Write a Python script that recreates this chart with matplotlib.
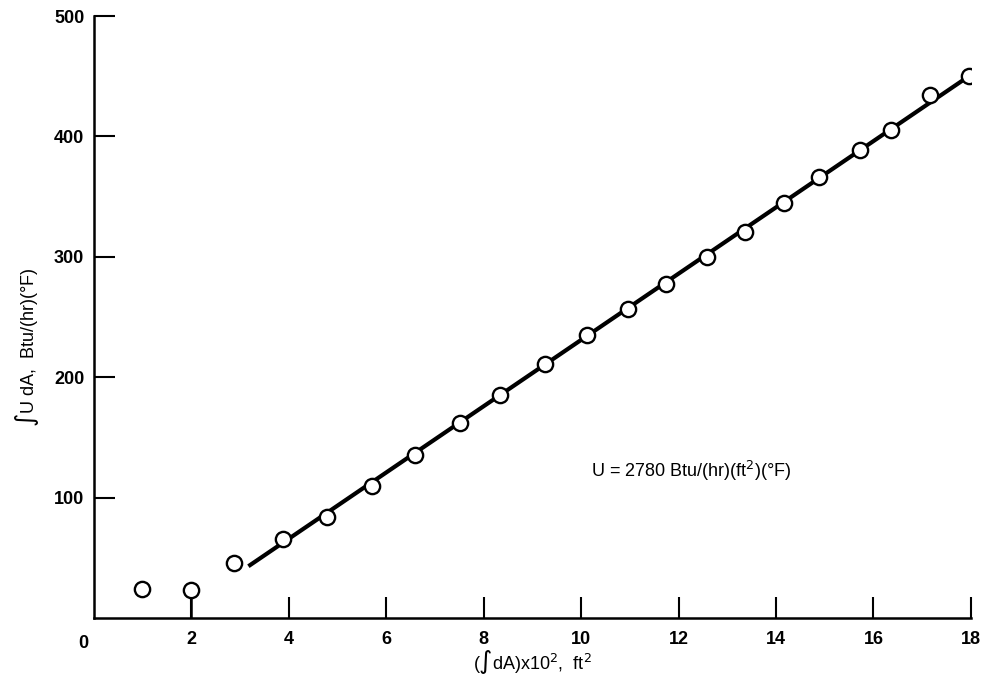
import matplotlib
matplotlib.use("Agg")
import matplotlib.pyplot as plt
import numpy as np

plt.rcParams['font.family'] = ['Liberation Sans Narrow', 'Liberation Sans', 'DejaVu Sans']
plt.rcParams['mathtext.fontset'] = 'dejavusans'

# data
area = [0.99, 2.0, 2.88, 3.89, 4.79, 5.71, 6.59, 7.52, 8.34, 9.26, 10.12,
        10.96, 11.74, 12.58, 13.36, 14.16, 14.88, 15.72, 16.36, 17.16, 17.96]
uda = [24, 23, 46, 66, 84, 110, 135, 162, 185, 211, 235,
       257, 277, 300, 321, 345, 366, 389, 405, 434, 450]
fit_x = [3.17, 17.96]
fit_y = [43, 450]
xticks = [2, 4, 6, 8, 10, 12, 14, 16, 18]
yticks = [100, 200, 300, 400, 500]

fig = plt.figure(figsize=(9.83, 6.81), dpi=100)
ax = fig.add_axes([0.0956, 0.0925, 0.892, 0.884])

ax.plot(fit_x, fit_y, color='black', lw=3, solid_capstyle='butt', zorder=2)
# stem under the point at x=2
ax.vlines(area[1], 0, uda[1] - 3, color='black', lw=1.8, zorder=1)
ax.plot(area, uda, 'o', ms=11, mfc='white', mec='black', mew=1.7, zorder=3)

ax.set_xlim(0, 18)
ax.set_ylim(0, 500)
ax.set_xticks(xticks)
ax.set_yticks(yticks)
ax.spines['top'].set_visible(False)
ax.spines['right'].set_visible(False)
for s in ('left', 'bottom'):
    ax.spines[s].set_linewidth(1.8)
ax.tick_params(direction='in', length=15, width=1.5, labelsize=13)
ax.tick_params(axis='x', pad=9)
ax.tick_params(axis='y', pad=7)
for lab in ax.get_xticklabels() + ax.get_yticklabels():
    lab.set_fontweight('bold')

# the 0 at the origin
ax.text(-0.22, -14, '0', ha='center', va='top', fontsize=13, fontweight='bold')

ax.set_xlabel(r'($\int$dA)x10$^{2}$,  ft$^{2}$', fontsize=13, labelpad=0)
ax.set_ylabel(r'$\int$U dA,  Btu/(hr)(°F)', fontsize=13)
ax.yaxis.set_label_coords(-0.06, 0.45)

ax.text(10.2, 122, r'U = 2780 Btu/(hr)(ft$^{2}$)(°F)', fontsize=13, va='center')

fig.savefig('out.png', dpi=100)
